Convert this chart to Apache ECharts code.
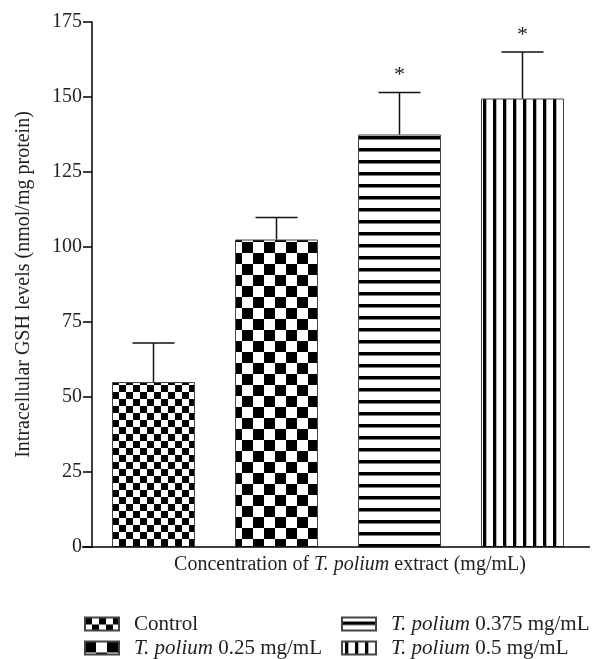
<!DOCTYPE html>
<html>
<head>
<meta charset="utf-8">
<script src="https://cdn.jsdelivr.net/npm/echarts@6/dist/echarts.min.js"></script>
<style>
  html, body { margin: 0; padding: 0; background: #fff; }
  #chart { width: 594px; height: 659px; }
</style>
</head>
<body>
<div id="chart"></div>
<script>
// groups on the x axis
const categories = ['Control', 'T. polium 0.25 mg/mL', 'T. polium 0.375 mg/mL', 'T. polium 0.5 mg/mL'];
// mean GSH (nmol/mg protein)
const gshMeans = [55, 102.5, 137.5, 149.5];
// upper error (SD)
const gshErrors = [13, 7.3, 14, 15.5];
// significance marks
const sigMarks = ['', '', '*', '*'];
const yTicks = [0, 25, 50, 75, 100, 125, 150, 175];

const FONT = '"Liberation Serif", "DejaVu Serif", serif';

// fill patterns
function makePattern(w, h, draw) {
  const c = document.createElement('canvas');
  c.width = w;
  c.height = h;
  const ctx = c.getContext('2d');
  ctx.fillStyle = '#fff';
  ctx.fillRect(0, 0, w, h);
  ctx.fillStyle = '#000';
  draw(ctx);
  return { image: c, repeat: 'repeat' };
}
function checker(s) {
  return makePattern(s * 2, s * 2, (ctx) => {
    ctx.fillRect(0, 0, s, s);
    ctx.fillRect(s, s, s, s);
  });
}
const patterns = [
  checker(7),
  checker(11),
  makePattern(12, 12, (ctx) => ctx.fillRect(0, 4, 12, 3.5)),
  makePattern(10, 10, (ctx) => ctx.fillRect(3, 0, 3.3, 10)),
];

const chart = echarts.init(document.getElementById('chart'));

const barSeries = categories.map((name, i) => ({
  name: name,
  type: 'bar',
  stack: 'g',
  barWidth: 83,
  data: categories.map((_, j) => (j === i ? gshMeans[i] : '-')),
  itemStyle: { color: patterns[i], borderColor: '#444', borderWidth: 1 },
  silent: true,
}));

const errData = categories.map((_, i) => [i, gshMeans[i], gshErrors[i]]);

function legendFmt(name) {
  if (name.indexOf('T. polium') === 0) {
    return '{i|T. polium}{n|' + name.slice(9) + '}';
  }
  return '{n|' + name + '}';
}
const legendText = {
  fontFamily: FONT,
  fontSize: 21,
  lineHeight: 24,
  color: '#222',
  padding: [0, 0, 0, 10],
  rich: {
    n: { fontFamily: FONT, fontSize: 21, lineHeight: 24, color: '#222' },
    i: { fontFamily: FONT, fontSize: 21, lineHeight: 24, fontStyle: 'italic', color: '#222' },
  },
};
const legendBase = {
  orient: 'vertical',
  top: 612,
  height: 48,
  itemGap: 0,
  itemWidth: 34,
  itemHeight: 13,
  icon: 'rect',
  padding: 0,
  formatter: legendFmt,
  textStyle: legendText,
  selectedMode: false,
};

chart.setOption({
  backgroundColor: '#fff',
  animation: false,
  grid: { left: 92, right: 10, top: 22, bottom: 112 },
  legend: [
    Object.assign({}, legendBase, { left: 84, data: [categories[0], categories[1]] }),
    Object.assign({}, legendBase, { left: 341, data: [categories[2], categories[3]] }),
  ],
  xAxis: {
    type: 'category',
    data: categories,
    axisLine: { show: false },
    axisTick: { show: false },
    axisLabel: { show: false },
    name: '{n|Concentration of }{i|T. polium}{n| extract (mg/mL)}',
    nameLocation: 'middle',
    nameGap: 8,
    nameTextStyle: {
      padding: [0, 0, 0, 24],
      rich: {
        n: { fontFamily: FONT, fontSize: 20, color: '#222' },
        i: { fontFamily: FONT, fontSize: 20, color: '#222', fontStyle: 'italic' },
      },
    },
  },
  yAxis: {
    type: 'value',
    min: 0,
    max: 175,
    interval: 25,
    axisLine: { show: true, lineStyle: { color: '#000', width: 1.5 } },
    axisTick: { show: true, length: 9, lineStyle: { color: '#000', width: 1.5 } },
    axisLabel: {
      margin: 10,
      fontFamily: FONT,
      fontSize: 20,
      color: '#222',
      customValues: yTicks,
    },
    splitLine: { show: false },
    name: 'Intracellular GSH levels (nmol/mg protein)',
    nameLocation: 'middle',
    nameGap: 58,
    nameTextStyle: { fontFamily: FONT, fontSize: 20, color: '#222' },
  },
  graphic: [
    {
      type: 'line',
      shape: { x1: 82, y1: 547, x2: 590, y2: 547 },
      style: { stroke: '#000', lineWidth: 1.5 },
      z: 10,
    },
  ],
  series: barSeries.concat([
    {
      type: 'custom',
      z: 5,
      silent: true,
      data: errData,
      renderItem: (params, api) => {
        const x = api.value(0);
        const mean = api.value(1);
        const err = api.value(2);
        const sig = sigMarks[params.dataIndex];
        const base = api.coord([x, mean]);
        const top = api.coord([x, mean + err]);
        const half = 21;
        const children = [
          { type: 'line', shape: { x1: base[0], y1: base[1], x2: top[0], y2: top[1] }, style: { stroke: '#111', lineWidth: 1.5 } },
          { type: 'line', shape: { x1: top[0] - half, y1: top[1], x2: top[0] + half, y2: top[1] }, style: { stroke: '#111', lineWidth: 1.5 } },
        ];
        if (sig) {
          children.push({
            type: 'text',
            x: top[0],
            y: top[1] - 6,
            style: { text: sig, fontFamily: FONT, fontSize: 22, fill: '#222', align: 'center', verticalAlign: 'bottom' },
          });
        }
        return { type: 'group', children: children };
      },
    },
  ]),
});
</script>
</body>
</html>
